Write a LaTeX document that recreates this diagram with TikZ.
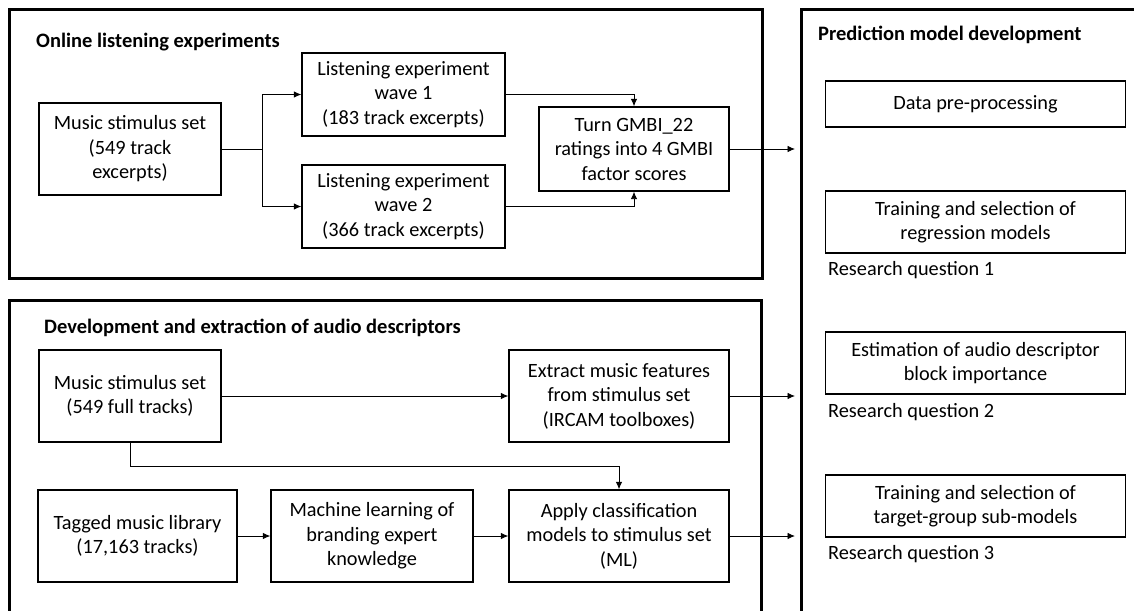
\documentclass[tikz,border=0pt]{standalone}
\usepackage{fontspec}
\setmainfont{Carlito}
\usetikzlibrary{arrows.meta}
\begin{document}
\begin{tikzpicture}[x=1pt,y=-1pt,
  every node/.style={font=\fontsize{20.3}{24.5}\selectfont},
  box/.style={draw, line width=1.3pt, align=center, inner sep=0pt},
  frame/.style={draw, line width=3pt},
  ttl/.style={anchor=west, inner sep=0pt, font=\fontsize{20.5}{24.5}\selectfont\bfseries},
  rq/.style={anchor=west, inner sep=0pt},
  arr/.style={line width=0.9pt, -{Latex[length=7.5pt,width=6.5pt]}}]
\useasboundingbox (0,0) rectangle (1134,610);
\clip (0,0) rectangle (1134,610);
% frames
\draw[frame] (9,10) rectangle (762,278);
\draw[frame] (9,300) rectangle (761,640);
\draw[frame] (801,10) rectangle (1160,640);
% titles
\node[ttl] (t1) at (36,42) {Online listening experiments};
\node[ttl] (t2) at (818,35) {Prediction model development};
\node[ttl] (t3) at (44,328) {Development and extraction of audio descriptors};
% top section
\node[box, minimum width=182pt, minimum height=92pt] (m1) at (130,149) {Music stimulus set\\(549 track\\excerpts)};
\node[box, minimum width=203pt, minimum height=83pt] (w1) at (403.5,94.5) {Listening experiment\\wave 1\\(183 track excerpts)};
\node[box, minimum width=203pt, minimum height=83pt] (w2) at (403.5,206.5) {Listening experiment\\wave 2\\(366 track excerpts)};
\node[box, minimum width=190pt, minimum height=84pt] (g) at (634,149) {Turn GMBI\_22\\ratings into 4 GMBI\\factor scores};
% right section
\node[box, minimum width=299.5pt, minimum height=46pt] (d) at (975.5,104) {Data pre-processing};
\node[box, minimum width=299.5pt, minimum height=62pt] (r1) at (975.5,222) {Training and selection of\\regression models};
\node[box, minimum width=299.5pt, minimum height=62pt] (r2) at (975.5,363) {Estimation of audio descriptor\\block importance};
\node[box, minimum width=299.5pt, minimum height=62pt] (r3) at (975.5,506) {Training and selection of\\target-group sub-models};
\node[rq] (q1) at (828,270) {Research question 1};
\node[rq] (q2) at (828,412) {Research question 2};
\node[rq] (q3) at (828,554) {Research question 3};
% bottom section
\node[box, minimum width=182pt, minimum height=92pt] (m2) at (130,396) {Music stimulus set\\(549 full tracks)};
\node[box, minimum width=220pt, minimum height=92pt] (ex) at (619,396) {Extract music features\\from stimulus set\\(IRCAM toolboxes)};
\node[box, minimum width=199pt, minimum height=92pt] (tg) at (137.5,536) {Tagged music library\\(17,163 tracks)};
\node[box, minimum width=202pt, minimum height=92pt] (ml) at (372,536) {Machine learning of\\branding expert\\knowledge};
\node[box, minimum width=220pt, minimum height=92pt] (ap) at (619,536) {Apply classification\\models to stimulus set\\(ML)};
% end points
\coordinate (e1) at (795,149);
\coordinate (e2) at (795,396);
\coordinate (e3) at (795,536);
% connectors
\draw[arr] (m1.east) -- ++(41,0) |- (w1.west);
\draw[arr] (m1.east) -- ++(41,0) |- (w2.west);
\draw[arr] (w1.east) -| (g.north);
\draw[arr] (w2.east) -| (g.south);
\draw[arr] (g.east) -- (e1);
\draw[arr] (m2.east) -- (ex.west);
\draw[arr] (m2.south) -- ++(0,24) -| (ap.north);
\draw[arr] (tg.east) -- (ml.west);
\draw[arr] (ml.east) -- (ap.west);
\draw[arr] (ex.east) -- (e2);
\draw[arr] (ap.east) -- (e3);
\end{tikzpicture}
\end{document}
